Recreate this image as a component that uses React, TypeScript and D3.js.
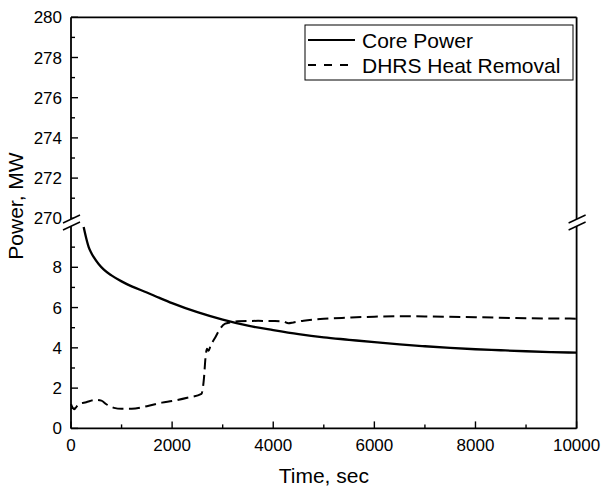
import React from "react";
import * as d3 from "d3";

// Core power after shutdown (MW) vs time (s)
const coreTime = [250, 300, 350, 400, 450, 550, 650, 800, 1000, 1200, 1500, 1750, 2000, 2500, 3000, 3500, 4000, 4500, 5000, 5500, 6000, 6500, 7000, 7500, 8000, 8500, 9000, 9500, 10000];
const corePower = [10.0, 9.45, 9.0, 8.72, 8.5, 8.15, 7.88, 7.6, 7.3, 7.05, 6.75, 6.48, 6.22, 5.77, 5.4, 5.1, 4.88, 4.68, 4.52, 4.4, 4.28, 4.17, 4.08, 4.0, 3.93, 3.88, 3.83, 3.79, 3.76];

// DHRS heat removal (MW) vs time (s)
const dhrsTime = [0, 60, 150, 300, 500, 600, 700, 850, 1000, 1200, 1500, 1800, 2000, 2300, 2580, 2630, 2660, 2690, 2720, 2760, 2850, 2950, 3050, 3150, 3300, 3700, 4000, 4200, 4300, 4400, 4600, 5000, 5500, 6000, 6500, 7000, 8000, 9000, 10000];
const dhrsPower = [1.2, 0.95, 1.2, 1.3, 1.42, 1.38, 1.2, 1.02, 0.97, 0.97, 1.1, 1.28, 1.36, 1.52, 1.72, 2.5, 3.5, 3.95, 3.85, 4.1, 4.5, 4.95, 5.2, 5.26, 5.32, 5.34, 5.33, 5.31, 5.22, 5.26, 5.35, 5.44, 5.5, 5.55, 5.57, 5.56, 5.52, 5.47, 5.45];

const xTicks = [0, 2000, 4000, 6000, 8000, 10000];
const xMinor = [1000, 3000, 5000, 7000, 9000];
const yLowTicks = [0, 2, 4, 6, 8];
const yLowMinor = [1, 3, 5, 7, 9];
const yHighTicks = [270, 272, 274, 276, 278, 280];
const yHighMinor = [271, 273, 275, 277, 279];

const legendLabels = ["Core Power", "DHRS Heat Removal"];

const FONT = "Arial, 'Liberation Sans', Helvetica, sans-serif";

export default function App() {
  const W = 603, H = 488;
  const left = 71, right = 576.6, top = 17.3, bottom = 428.4;

  const x = d3.scaleLinear().domain([0, 10000]).range([left, right]);
  const yLow = d3.scaleLinear().domain([0, 10.05]).range([bottom, 226]);
  const yHigh = d3.scaleLinear().domain([270, 280]).range([218.3, top]);

  const coreLine = d3.line<number>()
    .x((_, i) => x(coreTime[i]))
    .y((d) => yLow(d))
    .curve(d3.curveMonotoneX);
  const dhrsLine = d3.line<number>()
    .x((_, i) => x(dhrsTime[i]))
    .y((d) => yLow(d))
    .curve(d3.curveMonotoneX);

  const sw = 1.8;
  const major = 7, minor = 4;

  // break marks (two parallel slashes) on an axis at x position
  const breakMarks = (cx: number) => (
    <g>
      <polygon points={`${cx - 8},${223} ${cx + 9},${215} ${cx + 9},${222} ${cx - 8},${230}`} fill="white" />
      <line x1={cx - 8} y1={223} x2={cx + 9} y2={215} stroke="black" strokeWidth={1.4} />
      <line x1={cx - 8} y1={230} x2={cx + 9} y2={222} stroke="black" strokeWidth={1.4} />
    </g>
  );

  return (
    <svg width={W} height={H} style={{ position: "absolute", left: 0, top: 0 }} fontFamily={FONT}>
      <rect width={W} height={H} fill="white" />

      {/* data */}
      <path d={coreLine(corePower) || ""} fill="none" stroke="black" strokeWidth={2.3} />
      <path d={dhrsLine(dhrsPower) || ""} fill="none" stroke="black" strokeWidth={2} strokeDasharray="11,5.5" />

      {/* frame */}
      <line x1={left} y1={top} x2={right} y2={top} stroke="black" strokeWidth={sw} />
      <line x1={left} y1={bottom} x2={right} y2={bottom} stroke="black" strokeWidth={sw} />
      <line x1={left} y1={top} x2={left} y2={bottom} stroke="black" strokeWidth={sw} />
      <line x1={right} y1={top} x2={right} y2={bottom} stroke="black" strokeWidth={sw} />

      {/* x ticks */}
      {xTicks.map((t) => (
        <g key={"xt" + t}>
          <line x1={x(t)} x2={x(t)} y1={bottom} y2={bottom - major} stroke="black" strokeWidth={1.4} />
          <text x={x(t)} y={451} textAnchor="middle" fontSize={17}>{t}</text>
        </g>
      ))}
      {xMinor.map((t) => (
        <line key={"xm" + t} x1={x(t)} x2={x(t)} y1={bottom} y2={bottom - minor} stroke="black" strokeWidth={1.4} />
      ))}

      {/* y ticks, lower segment */}
      {yLowTicks.map((v) => (
        <g key={"yl" + v}>
          <line x1={left} x2={left + major} y1={yLow(v)} y2={yLow(v)} stroke="black" strokeWidth={1.4} />
          <text x={62} y={yLow(v) + 6} textAnchor="end" fontSize={17}>{v}</text>
        </g>
      ))}
      {yLowMinor.map((v) => (
        <line key={"ylm" + v} x1={left} x2={left + minor} y1={yLow(v)} y2={yLow(v)} stroke="black" strokeWidth={1.4} />
      ))}

      {/* y ticks, upper segment */}
      {yHighTicks.map((v) => (
        <g key={"yh" + v}>
          <line x1={left} x2={left + major} y1={yHigh(v)} y2={yHigh(v)} stroke="black" strokeWidth={1.4} />
          <text x={62} y={yHigh(v) + 6} textAnchor="end" fontSize={17}>{v}</text>
        </g>
      ))}
      {yHighMinor.map((v) => (
        <line key={"yhm" + v} x1={left} x2={left + minor} y1={yHigh(v)} y2={yHigh(v)} stroke="black" strokeWidth={1.4} />
      ))}

      {breakMarks(left)}
      {breakMarks(right)}

      {/* axis titles */}
      <text x={(left + right) / 2} y={483} textAnchor="middle" fontSize={21}>Time, sec</text>
      <text transform={`translate(23,206) rotate(-90)`} textAnchor="middle" fontSize={21}>Power, MW</text>

      {/* legend */}
      <rect x={305} y={25} width={268} height={55} fill="white" stroke="black" strokeWidth={1} />
      <line x1={308} x2={355} y1={40} y2={40} stroke="black" strokeWidth={2} />
      <line x1={308} x2={355} y1={65} y2={65} stroke="black" strokeWidth={2} strokeDasharray="8,8" />
      <text x={362} y={47.5} fontSize={21}>{legendLabels[0]}</text>
      <text x={362} y={72.5} fontSize={21}>{legendLabels[1]}</text>
    </svg>
  );
}
